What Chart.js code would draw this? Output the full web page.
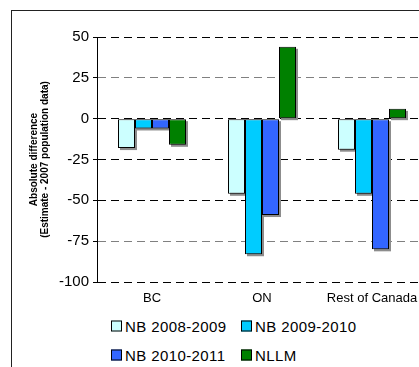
<!DOCTYPE html>
<html>
<head>
<meta charset="utf-8">
<script src="https://cdn.jsdelivr.net/npm/chart.js@4.4.1/dist/chart.umd.min.js"></script>
<style>
  html, body { margin: 0; padding: 0; background: #fff; overflow: hidden; width: 419px; height: 367px; }
  #frame { position: absolute; left: 11px; top: 10px; width: 450px; height: 420px; border: 1px solid #222; box-sizing: border-box; }
  #wrap { position: absolute; left: 0; top: 0; width: 430px; height: 312px; }
  #legend { position: absolute; left: 0; top: 0; font-family: "Liberation Sans", Arial, sans-serif; font-size: 15px; color: #000; }
  .item { position: absolute; display: flex; align-items: center; white-space: nowrap; letter-spacing: 0.4px; transform: translateY(-50%); }
  .box { width: 9px; height: 9px; border: 1px solid #000; margin-right: 3px; }
</style>
</head>
<body>
<div id="frame"></div>
<div id="wrap"><canvas id="grafica"></canvas></div>
<div id="legend"></div>
<script>
// datos
const categorias = ['BC', 'ON', 'Rest of Canada'];
const series = ['NB 2008-2009', 'NB 2009-2010', 'NB 2010-2011', 'NLLM'];
const nb0809 = [-18, -46, -19];
const nb0910 = [-6, -83, -46];
const nb1011 = [-6, -59, -80];
const nllm = [-16, 44, 6];
const colores = ['#CCFFFF', '#00CCFF', '#3366FF', '#008000'];
const yMin = -100, yMax = 50, yStep = 25;

const FONT = '"Liberation Sans", Arial, sans-serif';

// sombra gris: rectangulo desplazado detras de cada barra
const barShadow = {
  id: 'barShadow',
  beforeDatasetsDraw(chart) {
    const c = chart.ctx;
    const a = chart.chartArea;
    c.save();
    c.beginPath();
    c.rect(a.left, a.top, a.right - a.left, a.bottom - a.top + 3);
    c.clip();
    c.fillStyle = '#8c8c8c';
    chart.data.datasets.forEach((ds, i) => {
      chart.getDatasetMeta(i).data.forEach(b => {
        const p = b.getProps(['x', 'y', 'base', 'width'], true);
        const top = Math.min(p.y, p.base), h = Math.abs(p.base - p.y);
        c.fillRect(p.x - p.width / 2 + 2, top + 2, p.width, h);
      });
    });
    c.restore();
  }
};

const valores = [nb0809, nb0910, nb1011, nllm];

const chart = new Chart(document.getElementById('grafica'), {
  type: 'bar',
  data: {
    labels: categorias,
    datasets: series.map((s, i) => ({
      label: s,
      data: valores[i],
      backgroundColor: colores[i],
      borderColor: '#000',
      borderWidth: 1,
      borderSkipped: false,
      inflateAmount: 0
    }))
  },
  options: {
    responsive: true,
    maintainAspectRatio: false,
    animation: false,
    datasets: { bar: { categoryPercentage: 68 / 110, barPercentage: 1.0 } },
    layout: { padding: { top: 37, right: 3, left: 0, bottom: 0 } },
    plugins: { legend: { display: false }, tooltip: { enabled: false } },
    scales: {
      x: {
        grid: { display: false, drawTicks: false },
        border: { display: false },
        ticks: { color: '#000', font: { family: FONT, size: 13 }, padding: 9 },
        afterFit(s) { s.height = 30; }
      },
      y: {
        min: yMin, max: yMax,
        ticks: { stepSize: yStep, color: '#000', font: { family: FONT, size: 15 }, padding: 4 },
        grid: {
          color: ctx => (ctx.tick && (ctx.tick.value === 25 || ctx.tick.value === -75)) ? '#808080' : '#000',
          tickColor: '#000',
          tickLength: 4,
          tickBorderDash: []
        },
        border: { display: true, color: '#000', width: 1, dash: [8, 5] },
        title: {
          display: true,
          text: ['Absolute difference', '(Estimate - 2007 population data)'],
          color: '#000',
          font: { family: FONT, size: 10, weight: 'bold', lineHeight: 1.05 },
          padding: { top: 29, bottom: 0 }
        },
        afterFit(s) { s.width = 97; }
      }
    }
  },
  plugins: [barShadow]
});

// leyenda en dos columnas
const legendX = [111, 241];
const legendY = [326, 355];
const leg = document.getElementById('legend');
chart.data.datasets.forEach((ds, i) => {
  const el = document.createElement('div');
  el.className = 'item';
  el.style.left = legendX[i % 2] + 'px';
  el.style.top = legendY[Math.floor(i / 2)] + 'px';
  el.innerHTML = `<span class="box" style="background:${ds.backgroundColor}"></span>${ds.label}`;
  leg.appendChild(el);
});
</script>
</body>
</html>
